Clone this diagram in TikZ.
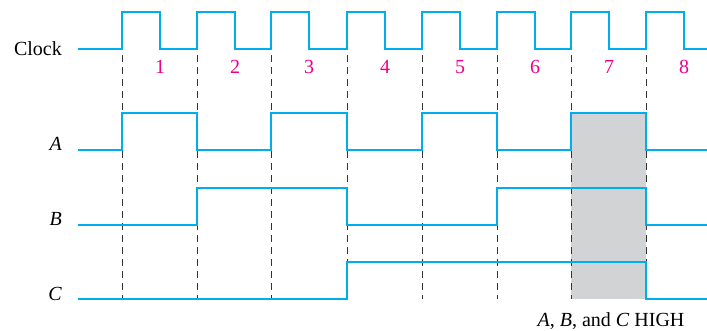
\documentclass[tikz,border=0pt]{standalone}
\usepackage{fontspec}
\setmainfont{Liberation Serif}
\usetikzlibrary{positioning}
\definecolor{wavecyan}{HTML}{00AEEF}
\definecolor{cyclemag}{HTML}{EC008C}
\definecolor{highgray}{HTML}{D1D3D4}
\tikzset{
  wave/.style={line width=2.2pt, wavecyan, line join=miter},
  edgeline/.style={line width=1pt, black!80, dash pattern=on 7pt off 5pt},
  highbox/.style={fill=highgray},
  siglabel/.style={font=\fontsize{20}{24}\selectfont, anchor=base east, inner sep=0pt},
  cyclenum/.style={font=\fontsize{20}{24}\selectfont, text=cyclemag, anchor=base, inner sep=0pt},
  notelabel/.style={font=\fontsize{20}{24}\selectfont, anchor=base, inner sep=0pt}
}

\begin{document}
\begin{tikzpicture}[x=1pt, y=-1pt]
  \useasboundingbox (0,0) rectangle (707,330);
  \fill[highbox] (571,113) rectangle (646,299);
  \foreach \x in {122,197,271,347,422,497,571,646}
    \draw[edgeline] (\x,55) -- (\x,299);
  \foreach \x [count=\n] in {160,235,309,385,460,535,609,684}
    \node[cyclenum] (num\n) at (\x,73) {\n};
  \draw[wave] (78,49) -| (122,12) -| (160,49) -| (197,12) -| (235,49) -| (271,12) -| (309,49) -| (347,12) -| (385,49) -| (422,12) -| (460,49) -| (497,12) -| (535,49) -| (571,12) -| (609,49) -| (646,12) -| (684,49) -- (707,49);
  \draw[wave] (78,150) -| (122,113) -| (197,150) -| (271,113) -| (347,150) -| (422,113) -| (497,150) -| (571,113) -| (646,150) -- (707,150);
  \draw[wave] (78,225) -| (197,188) -| (347,225) -| (497,188) -| (646,225) -- (707,225);
  \draw[wave] (78,299) -| (347,262) -| (646,299) -- (707,299);
  \node[siglabel] (clk) at (62,55) {Clock};
  \node[siglabel] (lblA) at (62,150) {\textit{A}};
  \node[siglabel] (lblB) at (62,225) {\textit{B}};
  \node[siglabel] (lblC) at (62,300) {\textit{C}};
  \node[notelabel] (note) at (611,326) {\textit{A}, \textit{B}, and \textit{C} HIGH};
\end{tikzpicture}
\end{document}
